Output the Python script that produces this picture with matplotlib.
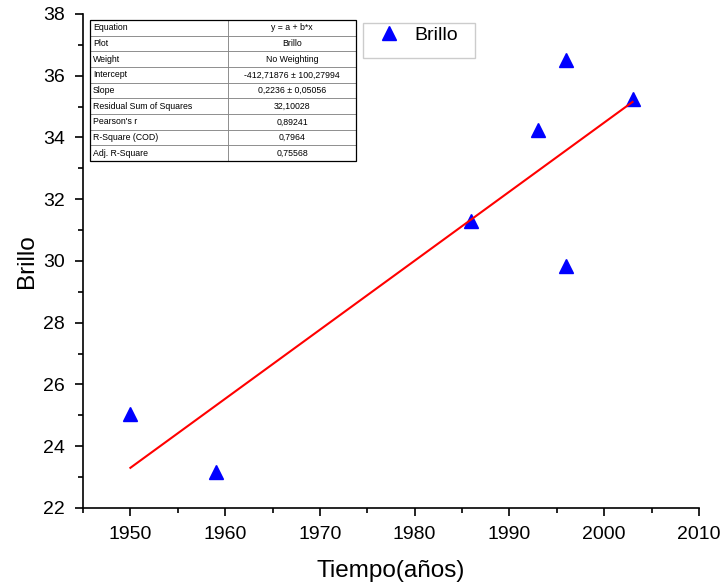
import matplotlib
import matplotlib.pyplot as plt
import numpy as np
from matplotlib.ticker import MultipleLocator

matplotlib.use('Agg')

# datos
anios = [1950, 1959, 1986, 1993, 1996, 1996, 2003]
brillo = [25.05, 23.15, 31.3, 34.25, 36.5, 29.85, 35.25]

intercepto = -412.71876
pendiente = 0.2236

tabla_nombres = ['Equation', 'Plot', 'Weight', 'Intercept', 'Slope',
                 'Residual Sum of Squares', "Pearson's r", 'R-Square (COD)',
                 'Adj. R-Square']
tabla_valores = ['y = a + b*x', 'Brillo', 'No Weighting',
                 '-412,71876 ± 100,27994', '0,2236 ± 0,05056', '32,10028',
                 '0,89241', '0,7964', '0,75568']

plt.rcParams['font.family'] = ['Liberation Sans', 'DejaVu Sans']

fig = plt.figure(figsize=(7.25, 5.87), dpi=100)
ax = fig.add_axes([0.1145, 0.1346, 0.8495, 0.8416])

ax.plot(anios, brillo, linestyle='none', marker='^', markersize=10,
        color='#0000ff', label='Brillo')

x_fit = np.array([min(anios), max(anios)])
ax.plot(x_fit, intercepto + pendiente * x_fit, color='red', linewidth=1.5)

ax.set_xlim(1945, 2010)
ax.set_ylim(22, 38)
ax.xaxis.set_minor_locator(MultipleLocator(5))
ax.yaxis.set_major_locator(MultipleLocator(2))
ax.yaxis.set_minor_locator(MultipleLocator(1))
ax.set_xticks([1950, 1960, 1970, 1980, 1990, 2000, 2010])

for s in ['top', 'right']:
    ax.spines[s].set_visible(False)
for s in ['left', 'bottom']:
    ax.spines[s].set_linewidth(1.2)

ax.tick_params(which='major', direction='out', length=6, width=1.2,
               labelsize=14)
ax.tick_params(axis='x', which='major', pad=7)
ax.tick_params(axis='y', which='major', pad=7)
ax.tick_params(which='minor', direction='out', length=3.5, width=1.2)

ax.set_xlabel('Tiempo(años)', fontsize=17.5, labelpad=12)
ax.set_ylabel('Brillo', fontsize=17.5, labelpad=4)

# leyenda sin marco; el marco se dibuja aparte (mas alto, como en Origin)
leg = ax.legend(loc='upper left', bbox_to_anchor=(0.481, 0.975),
                fontsize=14, frameon=False, borderpad=0, borderaxespad=0,
                handlelength=1.0, handletextpad=0.8)
ax.add_patch(plt.Rectangle((0.4545, 0.911), 0.1818, 0.071,
                           transform=ax.transAxes, fill=False,
                           edgecolor='#cccccc', linewidth=1.0, zorder=10))

celdas = [[n, v] for n, v in zip(tabla_nombres, tabla_valores)]
tabla = ax.table(cellText=celdas, colWidths=[0.52, 0.48],
                 bbox=[0.0114, 0.702, 0.432, 0.286])
tabla.auto_set_font_size(False)
tabla.set_fontsize(6.3)
for (r, c), celda in tabla.get_celld().items():
    celda.set_linewidth(0.5)
    celda.set_edgecolor('#777777')
    celda.get_text().set_ha('left' if c == 0 else 'center')
    if c == 0:
        celda.PAD = 0.02
# borde exterior negro
ax.add_patch(plt.Rectangle((0.0114, 0.702), 0.432, 0.286,
                           transform=ax.transAxes, fill=False,
                           edgecolor='black', linewidth=0.9, zorder=10))

fig.savefig('out.png', dpi=100)
plt.close(fig)
